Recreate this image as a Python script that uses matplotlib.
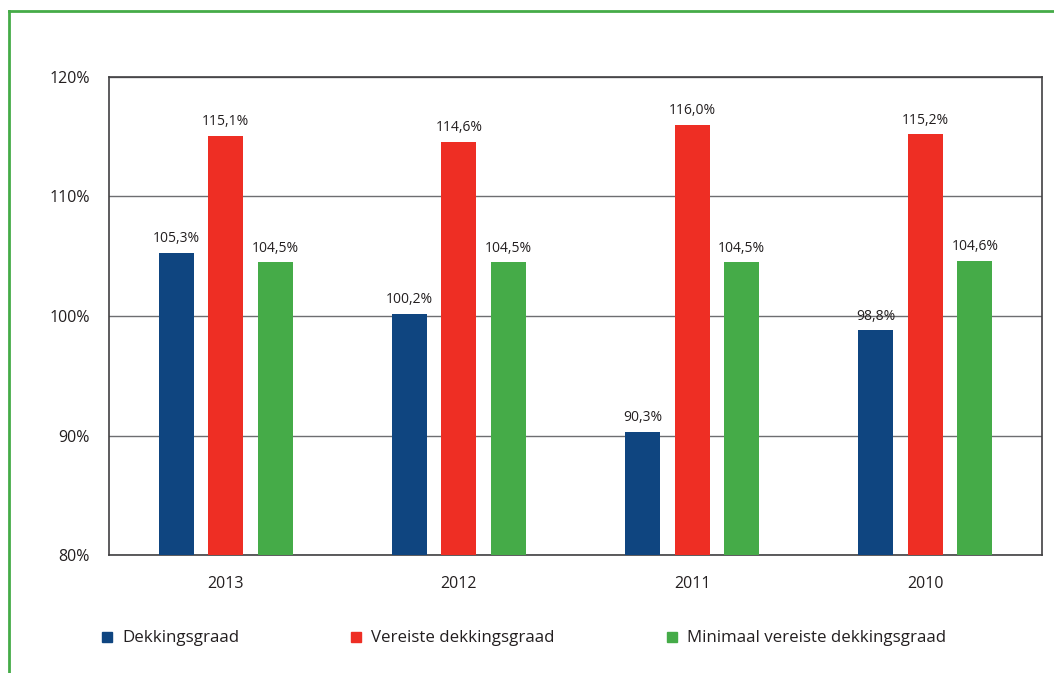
import numpy as np
from matplotlib import pyplot as plt
from matplotlib.lines import Line2D
from matplotlib.patches import Rectangle

plt.rcParams['font.family'] = ['Open Sans', 'DejaVu Sans']

years = ["2013", "2012", "2011", "2010"]
dekking = [105.3, 100.2, 90.3, 98.8]
vereist = [115.1, 114.6, 116.0, 115.2]
minimaal = [104.5, 104.5, 104.5, 104.6]
series_names = ["Dekkingsgraad", "Vereiste dekkingsgraad", "Minimaal vereiste dekkingsgraad"]
colors = ["#0f4580", "#ee2e24", "#45ab48"]
yticks = [80, 90, 100, 110, 120]

W, H = 1054, 673
fig = plt.figure(figsize=(W / 100, H / 100), dpi=100)
ax = fig.add_axes([109 / W, 1 - 555 / H, (1042 - 109) / W, (555 - 77) / H])

x = np.arange(len(years))
width = 0.15
offset = 0.212
for i, vals in enumerate([dekking, vereist, minimaal]):
    pos = x + (i - 1) * offset
    ax.bar(pos, [v - 80 for v in vals], width, bottom=80, color=colors[i], zorder=3)
    for px, v in zip(pos, vals):
        ax.text(px, v + 0.55, ("%.1f%%" % v).replace(".", ","), ha="center", va="bottom",
                fontsize=10, color="#231f20")

ax.set_xlim(-0.5, len(years) - 0.5)
ax.set_ylim(80, 120)
ax.set_yticks(yticks)
ax.set_yticklabels(["%d%%" % t for t in yticks])
ax.set_xticks(x)
ax.set_xticklabels(years)
ax.tick_params(length=0, labelsize=11.5, colors="#231f20")
ax.tick_params(axis="y", pad=14)
ax.tick_params(axis="x", pad=15)
ax.yaxis.grid(True, color="#6d6e71", linewidth=1.0, zorder=0)
for s in ax.spines.values():
    s.set_color("#414042")
    s.set_linewidth(1.2)

# legend
leg_x = [107, 356, 672]
for lx, name, c in zip(leg_x, series_names, colors):
    fig.patches.append(Rectangle(((lx - 5) / W, 1 - 642 / H), 10 / W, 10 / H,
                                 transform=fig.transFigure, color=c))
    fig.text((lx + 15) / W, 1 - 638 / H, name, fontsize=12.2, va="center", ha="left",
             color="#231f20")

# green frame
fig.lines.append(Line2D([9 / W, 9 / W], [0, 1 - 11 / H], transform=fig.transFigure,
                        color="#45ab48", linewidth=2))
fig.lines.append(Line2D([9 / W, 1], [1 - 11 / H, 1 - 11 / H], transform=fig.transFigure,
                        color="#45ab48", linewidth=2))

plt.savefig("out.png", dpi=100)
